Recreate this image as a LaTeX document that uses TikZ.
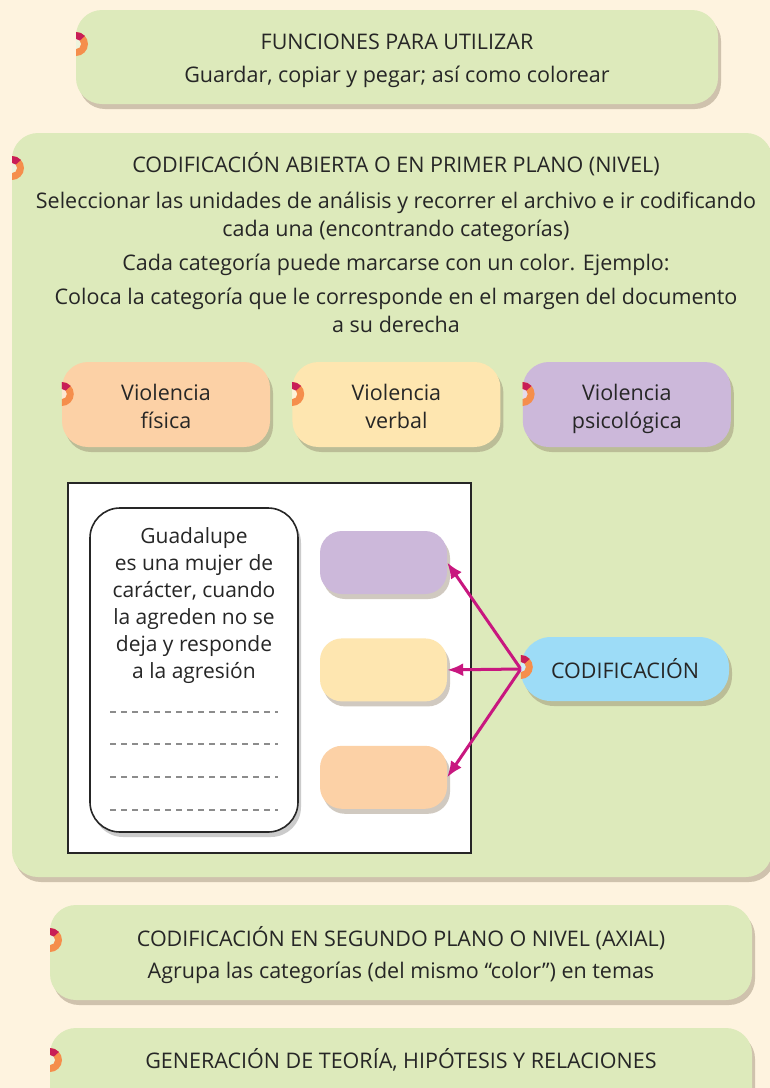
\documentclass[tikz,border=0pt]{standalone}
\usepackage{fontspec}
\setmainfont{Open Sans}
\usetikzlibrary{arrows.meta,positioning,shadows}
\definecolor{pagebg}{HTML}{FEF3DF}
\definecolor{boxgreen}{HTML}{DDEABB}
\definecolor{catorange}{HTML}{FCD1A6}
\definecolor{catyellow}{HTML}{FEE6B0}
\definecolor{catpurple}{HTML}{CCB8DA}
\definecolor{boxblue}{HTML}{9DDCF7}
\definecolor{arrowc}{HTML}{C8177F}
\definecolor{markorange}{HTML}{F58E4C}
\definecolor{markred}{HTML}{C81E57}
\definecolor{ink}{HTML}{262626}
\definecolor{shadowc}{HTML}{8A7A62}
\newcommand{\toprule}[1]{\rule{0pt}{#1}}

\begin{document}
\begin{tikzpicture}[
  x=1pt,y=-1pt,
  every node/.style={font=\fontsize{21.5}{28}\selectfont,text=ink},
  shad/.style={drop shadow={shadow xshift=3pt,shadow yshift=-5pt,fill=shadowc,opacity=.4}},
  panel/.style={fill=boxgreen,rounded corners=26pt,align=center,inner sep=0pt,shad},
  catbox/.style={rounded corners=26pt,minimum width=208pt,minimum height=85pt,align=center,inner sep=0pt,shad,text depth=0pt},
  tagbox/.style={rounded corners=22pt,minimum width=127pt,minimum height=63pt,shad},
  dashline/.style={draw=black!45,line width=1.2pt,dash pattern=on 6pt off 5pt},
  arr/.style={-{Latex[length=16pt,width=13pt]},line width=3pt,draw=arrowc},
  tabmark/.pic={
    \fill[markorange] (-90:12pt) arc[start angle=-90,end angle=90,radius=12pt]
      -- (90:5pt) arc[start angle=90,end angle=-90,radius=5pt] -- cycle;
    \fill[markred] (90:12pt) arc[start angle=90,end angle=42,radius=12pt]
      -- (42:5pt) arc[start angle=42,end angle=90,radius=5pt] -- cycle;
    \fill[white,opacity=.5] (-90:5pt) arc[start angle=-90,end angle=90,radius=5pt] -- cycle;
  }
]
\clip (0,0) rectangle (770,1088);
\fill[pagebg] (0,0) rectangle (770,1088);

% functions
\node[panel,minimum width=642pt,minimum height=94pt] (fun) at (397,57)
  {\toprule{24pt}FUNCIONES PARA UTILIZAR\\[5pt]Guardar, copiar y pegar; así como colorear};
\pic at (76,44) {tabmark};

% open coding
\node[panel,minimum width=760pt,minimum height=744pt] (open) at (392,505) {};
\pic at (12,168) {tabmark};
\node[align=center,inner sep=0pt] (opentxt) at (396,243)
  {CODIFICACIÓN ABIERTA O EN PRIMER PLANO (NIVEL)\\[8pt]
   Seleccionar las unidades de análisis y recorrer el archivo e ir codificando\\
   cada una (encontrando categorías)\\[6pt]
   Cada categoría puede marcarse con un color. Ejemplo:\\[6pt]
   Coloca la categoría que le corresponde en el margen del documento\\
   a su derecha};

% categories
\node[catbox,fill=catorange] (fis) at (166,404.5) {\toprule{20pt}Violencia\\física};
\node[catbox,fill=catyellow,right=22pt of fis] (ver) {\toprule{20pt}Violencia\\verbal};
\node[catbox,fill=catpurple,right=22pt of ver] (psi) {\toprule{20pt}Violencia\\psicológica};
\pic at (fis.west |- 0,394) {tabmark};
\pic at (ver.west |- 0,394) {tabmark};
\pic at (psi.west |- 0,394) {tabmark};

% document
\node[draw=black!85,line width=2pt,fill=white,minimum width=403pt,minimum height=370pt] (doc) at (269.5,668) {};
\node[draw=ink,line width=1.6pt,fill=white,rounded corners=30pt,minimum width=208pt,minimum height=324pt,
  drop shadow={shadow xshift=3pt,shadow yshift=-5pt,fill=black!40,opacity=.5}] (note) at (194,670) {};
\node[anchor=north,align=center,inner sep=0pt,font=\fontsize{21}{27}\selectfont] (quote) at (194,527)
  {Guadalupe\\es una mujer de\\carácter, cuando\\la agreden no se\\deja y responde\\a la agresión};
\foreach \y in {712,744,777,810}
  \draw[dashline] (110,\y) -- (278,\y);

% tags
\node[tagbox,fill=catpurple] (tagP) at (383.5,562.5) {};
\node[tagbox,fill=catyellow,below=44pt of tagP] (tagY) {};
\node[tagbox,fill=catorange,below=44pt of tagY] (tagO) {};

% coding
\node[fill=boxblue,rounded corners=30pt,minimum width=208pt,minimum height=64pt,shad] (cod) at (625,669) {CODIFICACIÓN};
\draw[arr] (cod.west) -- (tagP.east);
\draw[arr] (cod.west) -- (tagY.east);
\draw[arr] (cod.west) -- (tagO.east);
\pic at ([yshift=2pt]cod.west) {tabmark};

% axial
\node[panel,minimum width=702pt,minimum height=95pt] (axial) at (401,952.5)
  {\toprule{26pt}CODIFICACIÓN EN SEGUNDO PLANO O NIVEL (AXIAL)\\[4pt]Agrupa las categorías (del mismo “color”) en temas};
\pic at (50,940) {tabmark};

% theory
\node[panel,minimum width=702pt,minimum height=95pt,text depth=34pt] (gen) at (401,1075.5)
  {GENERACIÓN DE TEORÍA, HIPÓTESIS Y RELACIONES};
\pic at (50,1060) {tabmark};
\end{tikzpicture}
\end{document}
